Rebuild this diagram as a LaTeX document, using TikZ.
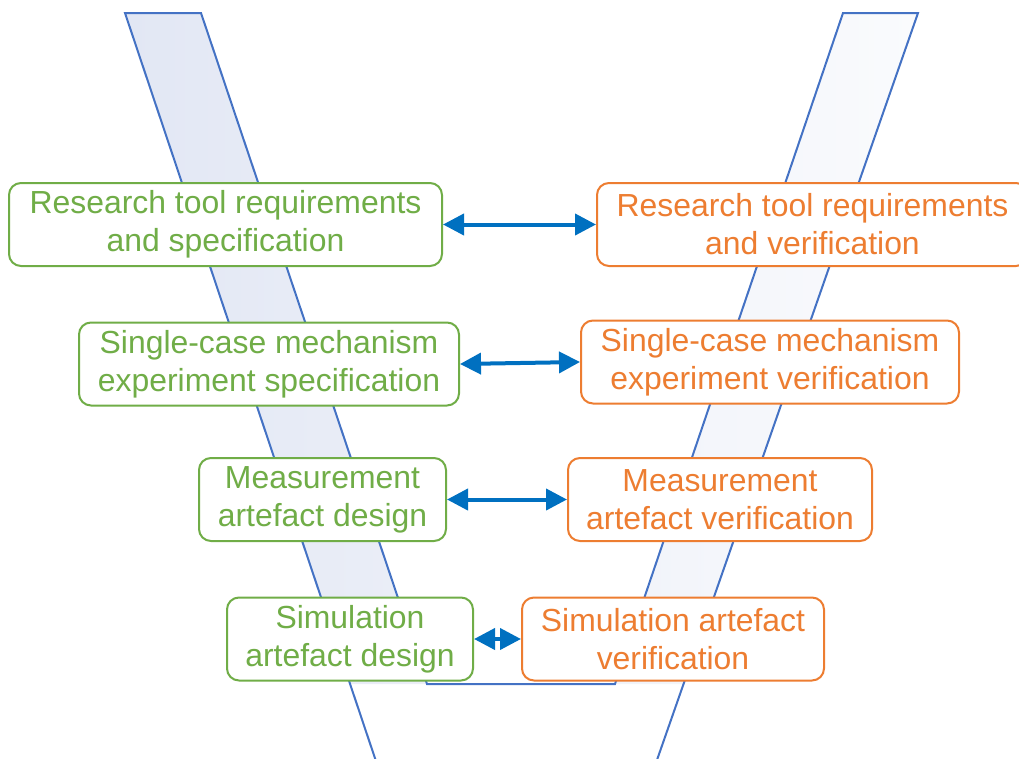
\documentclass[tikz,border=0pt]{standalone}
\usepackage{fontspec}
\setmainfont{Liberation Sans}
\usepackage{xcolor}
\usetikzlibrary{arrows.meta}
\definecolor{vgreen}{RGB}{112,173,71}
\definecolor{vorange}{RGB}{237,125,49}
\definecolor{vblue}{RGB}{0,112,192}
\definecolor{vline}{RGB}{68,114,196}
\definecolor{vfillA}{RGB}{226,231,244}
\definecolor{vfillB}{RGB}{250,251,253}

\begin{document}
\begin{tikzpicture}[x=1pt, y=-1pt,
	box/.style={draw, line width=2pt, rounded corners=12pt, fill=white, inner sep=0pt,
		minimum height=83pt, align=center, font=\fontsize{31.9}{38}\selectfont},
	spec/.style={box, draw=vgreen, text=vgreen},
	verif/.style={box, draw=vorange, text=vorange},
	link/.style={vblue, line width=4pt, {Triangle[length=21pt,width=21pt]}-{Triangle[length=21pt,width=21pt]}}]
					\clip (0,0) rectangle (1019,758);
					
					% Ksztalt V
					\shade[left color=vfillA, right color=vfillB] (125,13) -- (201,13) -- (427,684) -- (615,684) -- (843,13) -- (918,13) -- (684,684) -- (350,684) -- cycle;
					\draw[vline, line width=2pt] (389,800) -- (125,13) -- (201,13) -- (427,684) -- (615,684) -- (843,13) -- (918,13) -- (643,800);
					
					% Lewa strona: specyfikacja i projekt
					\node[spec, minimum width=433pt] (spec1) at (225.5,224.5) {Research tool requirements\\and specification};
					\node[spec, minimum width=380pt] (spec2) at (269,364) {Single-case mechanism\\experiment specification};
					\node[spec, minimum width=247pt] (spec3) at (322.5,499.5) {Measurement\\artefact design};
					\node[spec, minimum width=246pt] (spec4) at (350,639) {Simulation\\artefact design};
					
					% Prawa strona: weryfikacja
					\node[verif, minimum width=431pt] (verif1) at (812.5,224.5) {Research tool requirements\\and verification};
					\node[verif, minimum width=378pt] (verif2) at (770,362) {Single-case mechanism\\experiment verification};
					\node[verif, minimum width=304pt] (verif3) at (720,499.5) {Measurement\\artefact verification};
					\node[verif, minimum width=302pt] (verif4) at (673,639) {Simulation artefact\\verification};
					
					% Strzalki
					\draw[link] (spec1.east) -- (verif1.west);
					\draw[link] (spec2.east) -- (verif2.west);
					\draw[link] (spec3.east) -- (verif3.west);
					\draw[link] (spec4.east) -- (verif4.west);
				\end{tikzpicture}
\end{document}
